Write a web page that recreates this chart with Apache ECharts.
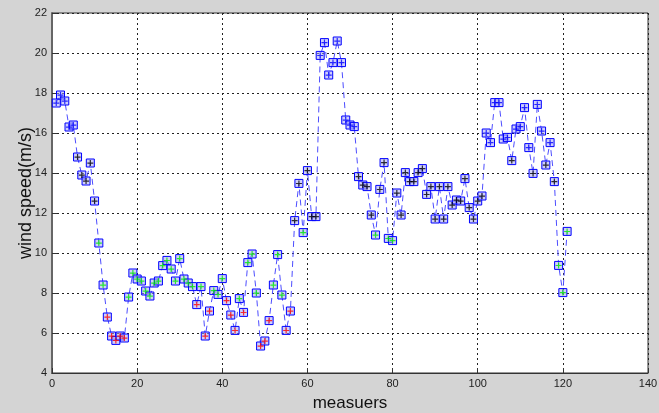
<!DOCTYPE html>
<html>
<head>
<meta charset="utf-8">
<script src="https://cdn.jsdelivr.net/npm/echarts@6/dist/echarts.min.js"></script>
<style>
html,body{margin:0;padding:0;background:#d4d4d4;}
#c{width:659px;height:413px;}
</style>
</head>
<body>
<div id="c"></div>
<script>
// measurement index 1..121
const measures = [1,2,3,4,5,6,7,8,9,10,11,12,13,14,15,16,17,18,19,20,21,22,23,24,25,26,27,28,29,30,31,32,33,34,35,36,37,38,39,40,41,42,43,44,45,46,47,48,49,50,51,52,53,54,55,56,57,58,59,60,61,62,63,64,65,66,67,68,69,70,71,72,73,74,75,76,77,78,79,80,81,82,83,84,85,86,87,88,89,90,91,92,93,94,95,96,97,98,99,100,101,102,103,104,105,106,107,108,109,110,111,112,113,114,115,116,117,118,119,120,121];
const windSpeed = [17.5,17.9,17.6,16.3,16.4,14.8,13.9,13.6,14.5,12.6,
  10.5,8.4,6.8,5.85,5.63,5.85,5.75,7.8,9.0,8.7,
  8.6,8.1,7.85,8.5,8.6,9.37,9.63,9.2,8.6,9.72,
  8.7,8.5,8.32,7.42,8.32,5.85,7.1,8.12,7.93,8.72,
  7.62,6.9,6.13,7.72,7.03,9.52,9.95,8.0,5.35,5.6,
  6.62,8.4,9.92,7.9,6.13,7.1,11.62,13.48,11.02,14.12,
  11.82,11.82,19.88,20.52,18.9,19.52,20.6,19.52,16.65,16.4,
  16.32,13.82,13.4,13.32,11.9,10.9,13.18,14.52,10.73,10.62,
  13.0,11.9,14.02,13.57,13.57,14.02,14.22,12.93,13.32,11.7,
  13.32,11.7,13.32,12.4,12.65,12.6,13.72,12.27,11.7,12.6,
  12.85,16.0,15.52,17.52,17.52,15.7,15.78,14.62,16.2,16.32,
  17.27,15.27,13.98,17.43,16.1,14.4,15.52,13.57,9.38,8.02,
  11.08];
const xTicks = [0,20,40,60,80,100,120,140];
const yTicks = [4,6,8,10,12,14,16,18,20,22];

function classColor(v){
  if (v < 7.67) return '#ff0000';
  if (v < 11.4) return '#00ee00';
  if (v < 15) return '#000000';
  return '#0000ff';
}
const pts = measures.map((m,i)=>[m, windSpeed[i]]);
const plusPts = pts.map(p=>({value:p, itemStyle:{color:classColor(p[1])}}));

const tickFont = {fontFamily:'"Liberation Sans Narrow","Liberation Sans",Arial,sans-serif', fontSize:11, color:'#222'};
const chart = echarts.init(document.getElementById('c'), null, {renderer:'canvas'});
chart.setOption({
  animation:false,
  backgroundColor:'#d4d4d4',
  grid:{left:52,right:11,top:13,bottom:40,outerBoundsMode:'none',containLabel:false,show:true,backgroundColor:'#ffffff',borderColor:'#333',borderWidth:1},
  xAxis:{
    type:'value',min:0,max:140,interval:20,
    name:'measuers',nameLocation:'middle',nameGap:22,nameMoveOverlap:false,
    nameTextStyle:{fontFamily:'"Liberation Sans",Arial,sans-serif',fontSize:17,color:'#111'},
    axisLine:{show:true,lineStyle:{color:'#333',width:1}},
    axisTick:{show:true,inside:true,length:5,lineStyle:{color:'#333'}},
    axisLabel:Object.assign({margin:5},tickFont),
    splitLine:{show:true,lineStyle:{color:'#222',type:[2,3],width:1}}
  },
  yAxis:{
    type:'value',min:4,max:22,interval:2,
    name:'wind speed(m/s)',nameLocation:'middle',nameGap:17,nameMoveOverlap:false,
    nameTextStyle:{fontFamily:'"Liberation Sans",Arial,sans-serif',fontSize:18,color:'#111'},
    axisLine:{show:true,lineStyle:{color:'#666',width:2}},
    axisTick:{show:true,inside:true,length:5,lineStyle:{color:'#333'}},
    axisLabel:Object.assign({margin:5},tickFont),
    splitLine:{show:true,lineStyle:{color:'#222',type:[2,3],width:1}}
  },
  series:[
    {
      type:'line',data:pts,symbol:'rect',symbolSize:8,showSymbol:true,
      lineStyle:{color:'#4d4dff',width:1,type:[6,4]},
      itemStyle:{color:'rgba(170,170,245,0.55)',borderColor:'#0000ff',borderWidth:1},
      z:2
    },
    {
      type:'scatter',data:plusPts,
      symbol:'path://M0,2.5h6v1.2h-6zM2.4,0h1.2v6h-1.2z',symbolSize:6,
      z:3
    }
  ]
});
</script>
</body>
</html>
